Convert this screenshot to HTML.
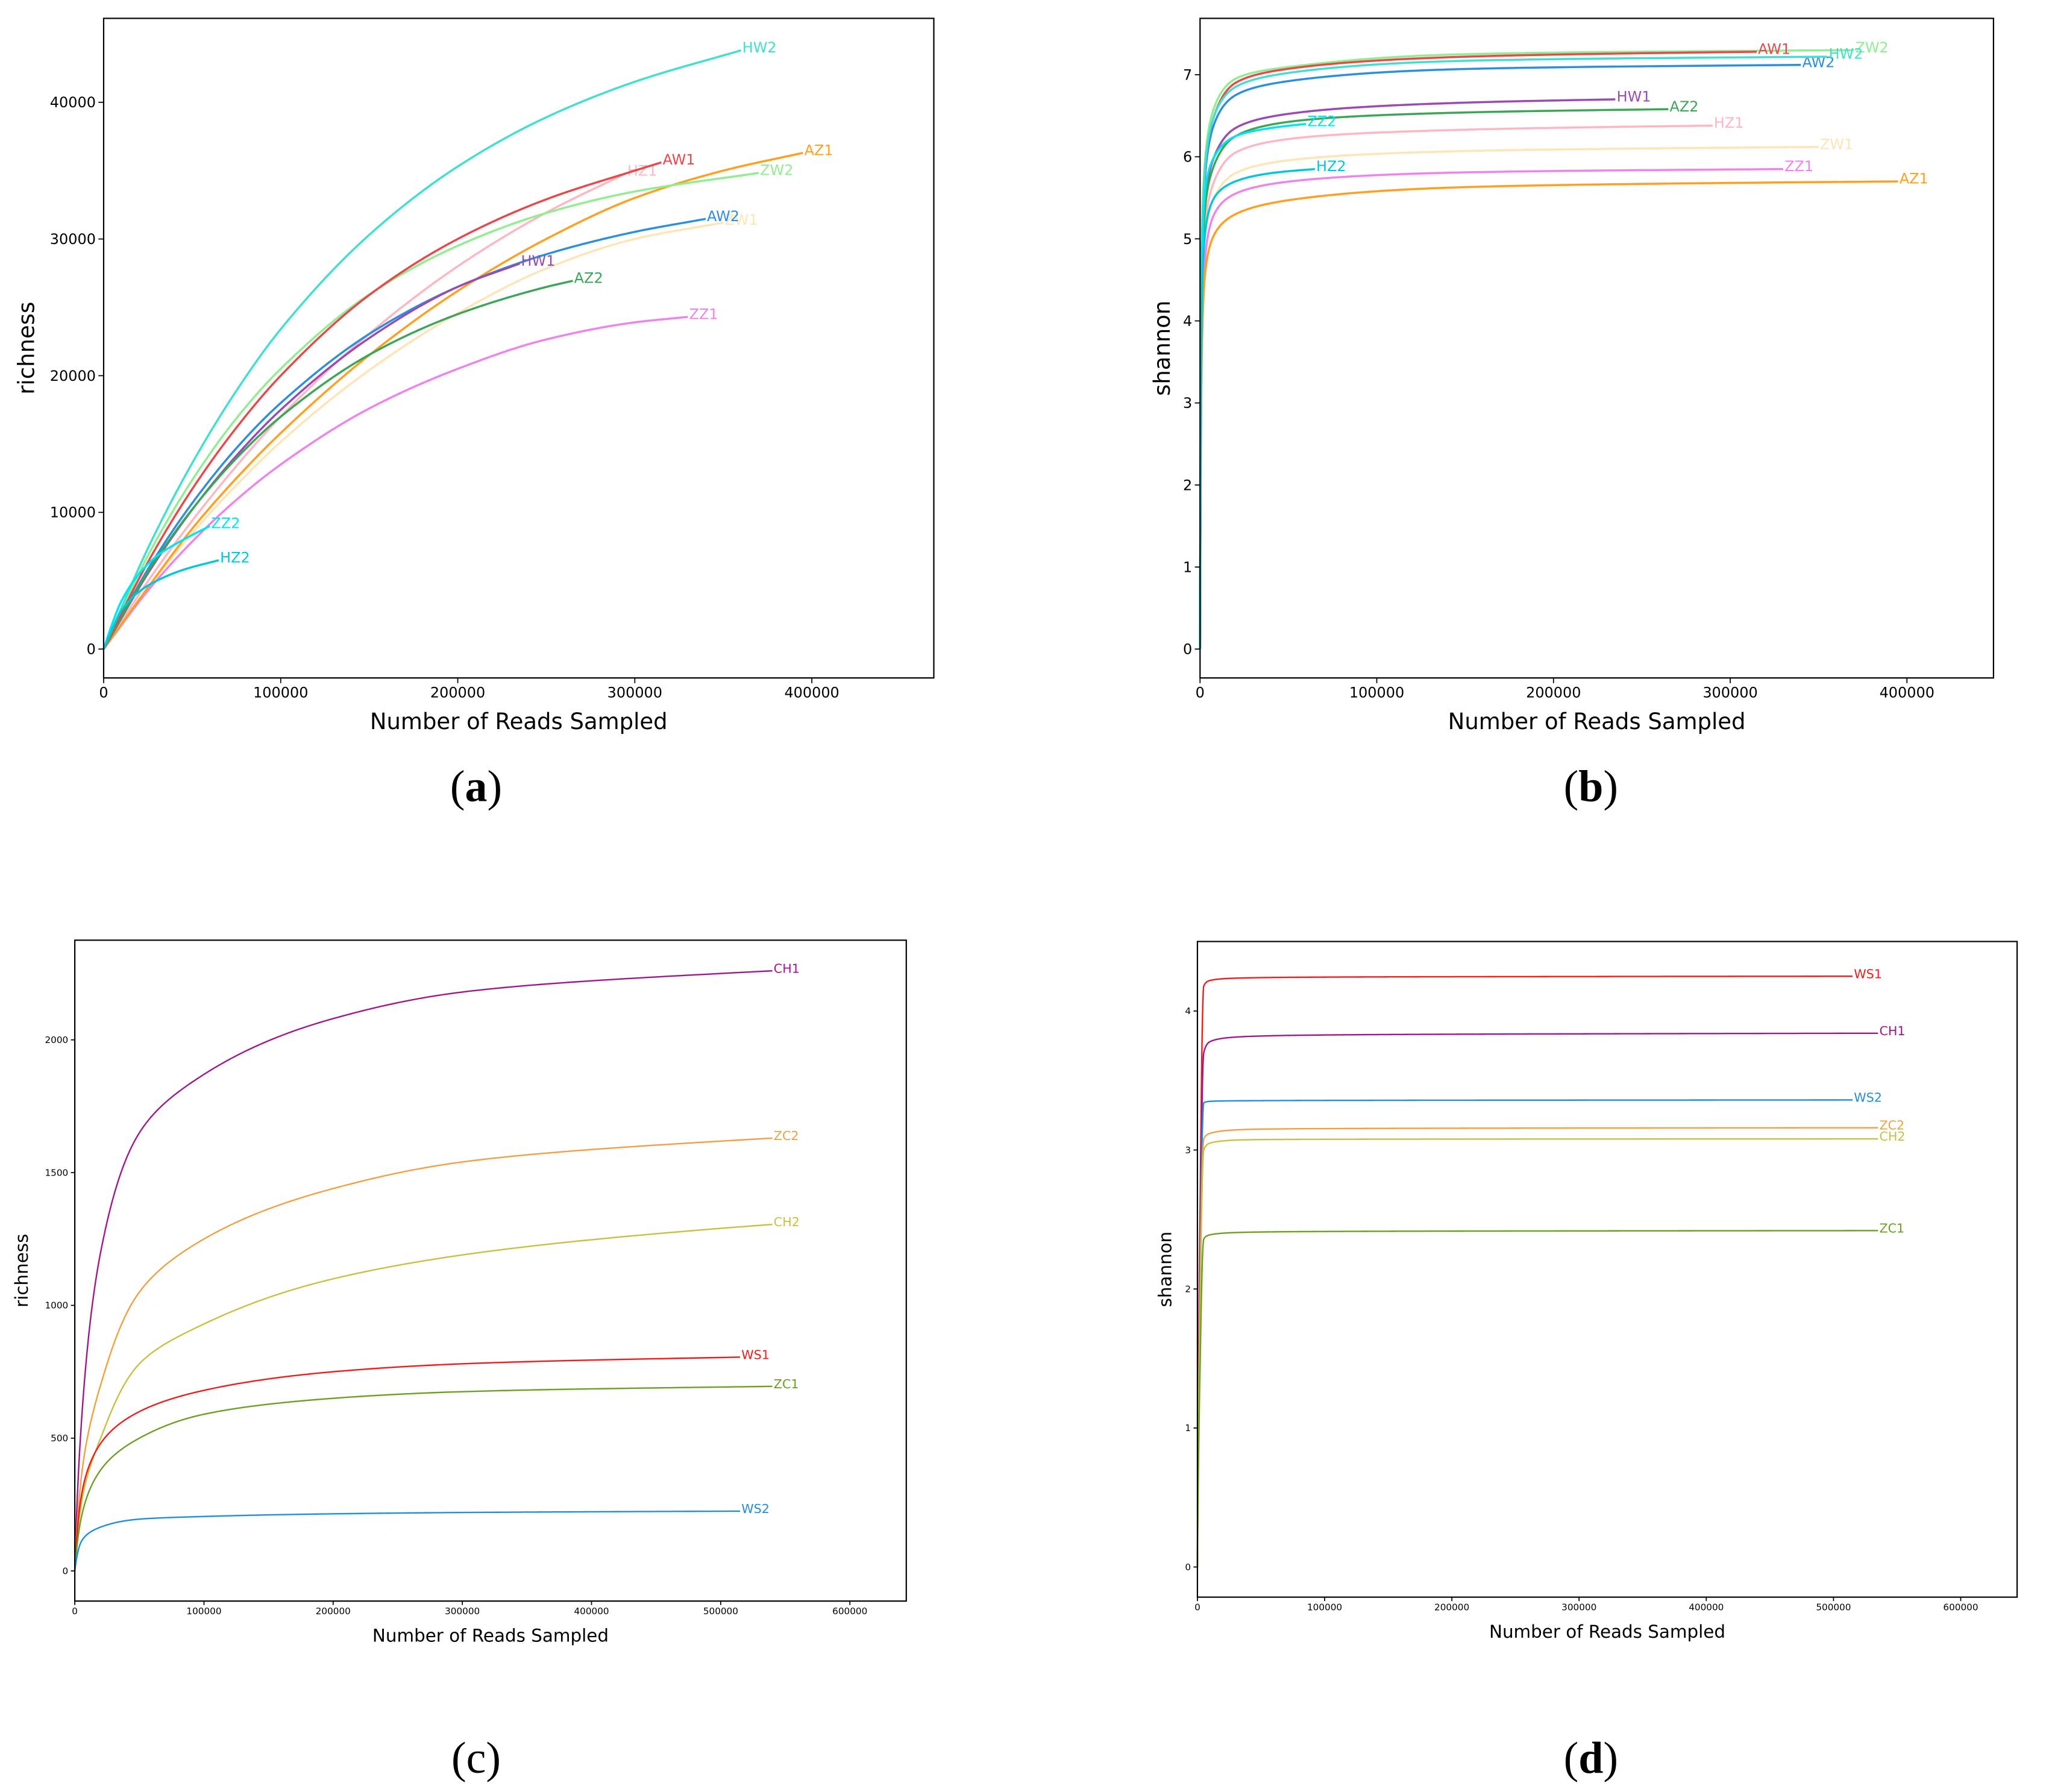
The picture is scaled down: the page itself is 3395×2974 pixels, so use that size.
<!DOCTYPE html>
<html><head><meta charset="utf-8">
<style>
html,body{margin:0;padding:0;background:#fff;}
svg{display:block;}
</style></head>
<body>
<svg id="fig" width="3395" height="2974" viewBox="0 0 1560 1366.6" xmlns="http://www.w3.org/2000/svg" style="font-family:'DejaVu Sans','Liberation Sans',sans-serif;"></svg>
<script>
// ---------- Panel (a) richness ----------
const aNames = ["HZ1","ZW1","ZZ1","AZ1","AW2","HW1","AZ2","ZW2","AW1","HW2","ZZ2","HZ2"];
const aColors = ["#ffb6c1","#ffe4b5","#ee82ee","#ff9f1f","#2b8fe0","#9b4bb0","#3aa657","#90ee90","#e8474b","#40e0d0","#00e5ee","#00c8d8"];
const aX = [
 [0,25000,50000,75000,100000,150000,200000,250000,295000],
 [0,25000,50000,75000,100000,150000,200000,250000,300000,350000],
 [0,25000,50000,75000,100000,150000,200000,250000,300000,330000],
 [0,25000,50000,75000,100000,150000,200000,250000,300000,350000,395000],
 [0,25000,50000,75000,100000,150000,200000,250000,300000,340000],
 [0,25000,50000,75000,100000,150000,200000,235000],
 [0,25000,50000,75000,100000,150000,200000,250000,265000],
 [0,25000,50000,75000,100000,150000,200000,250000,300000,370000],
 [0,25000,50000,75000,100000,150000,200000,250000,300000,315000],
 [0,25000,50000,75000,100000,150000,200000,250000,300000,360000],
 [0,5000,10000,20000,30000,45000,60000],
 [0,5000,10000,20000,30000,45000,65000]
];
const aY = [
 [0,4960,9390,13390,17000,23070,28000,31930,34800],
 [0,4490,8470,12000,15160,20400,24570,27840,30000,31200],
 [0,4270,7860,10920,13500,17600,20500,22650,23900,24300],
 [0,4500,8800,12500,15800,21500,26200,30000,33000,35000,36300],
 [0,5840,10670,14700,18000,23050,26500,28880,30520,31470],
 [0,5530,10200,14150,17500,22750,26500,28200],
 [0,5650,10220,13960,17000,21530,24500,26490,26940],
 [0,6830,12360,16880,20500,25940,29500,31900,33470,34830],
 [0,6360,11700,16200,20000,25900,30000,32900,35000,35600],
 [0,7370,13600,18900,23400,30300,35300,38900,41500,43800],
 [0,1900,3500,5500,6800,8000,9000],
 [0,1500,2800,4200,5000,5800,6500]
];
const aXTicks = [0,100000,200000,300000,400000];
const aYTicks = [0,10000,20000,30000,40000];

// ---------- Panel (b) shannon ----------
const bNames = ["HZ1","ZW1","ZZ1","AZ1","AW2","HW1","AZ2","ZW2","AW1","HW2","ZZ2","HZ2"];
const bColors = aColors;
const bX = [
 [0,1000,3000,8000,20000,60000,150000,290000],
 [0,1000,3000,8000,20000,60000,150000,350000],
 [0,1000,3000,8000,20000,60000,150000,330000],
 [0,1000,3000,8000,20000,60000,150000,395000],
 [0,1000,3000,8000,20000,60000,150000,340000],
 [0,1000,3000,8000,20000,60000,150000,235000],
 [0,1000,3000,8000,20000,60000,150000,265000],
 [0,1000,3000,8000,20000,60000,150000,370000],
 [0,1000,3000,8000,20000,60000,150000,315000],
 [0,1000,3000,8000,20000,60000,150000,355000],
 [0,1000,3000,8000,20000,40000,60000],
 [0,1000,3000,8000,20000,40000,65000]
];
const bY = [
 [0,4.2,5.2,5.7,6.05,6.24,6.33,6.38],
 [0,4.0,5.0,5.5,5.8,5.98,6.07,6.12],
 [0,3.8,4.8,5.3,5.55,5.72,5.81,5.85],
 [0,3.6,4.6,5.05,5.3,5.5,5.63,5.7],
 [0,4.7,5.8,6.4,6.75,6.95,7.07,7.12],
 [0,4.5,5.5,6.0,6.35,6.55,6.66,6.7],
 [0,4.4,5.4,5.9,6.25,6.45,6.54,6.58],
 [0,4.9,6.0,6.6,6.95,7.12,7.25,7.3],
 [0,4.8,5.9,6.5,6.9,7.1,7.22,7.28],
 [0,4.8,5.9,6.5,6.85,7.05,7.17,7.22],
 [0,4.6,5.6,6.0,6.25,6.35,6.4],
 [0,4.2,5.1,5.5,5.7,5.8,5.85]
];
const bXTicks = [0,100000,200000,300000,400000];
const bYTicks = [0,1,2,3,4,5,6,7];

// ---------- Panel (c) richness ----------
const cNames = ["CH1","ZC2","CH2","WS1","ZC1","WS2"];
const cColors = ["#a0168f","#f0a040","#c8c040","#ee1c1c","#6aa020","#1e90d8"];
const cX = [
 [0,5000,20000,50000,100000,200000,300000,540000],
 [0,5000,20000,50000,100000,200000,300000,540000],
 [0,5000,20000,50000,100000,200000,300000,540000],
 [0,5000,20000,50000,100000,200000,300000,515000],
 [0,5000,20000,50000,100000,200000,300000,540000],
 [0,5000,20000,50000,100000,200000,300000,515000]
];
const cY = [
 [0,550,1200,1650,1870,2080,2180,2260],
 [0,350,700,1050,1250,1440,1540,1630],
 [0,250,500,780,930,1100,1190,1305],
 [0,280,480,600,680,750,780,805],
 [0,200,380,500,590,650,675,695],
 [0,110,165,195,205,215,220,225]
];
const cXTicks = [0,100000,200000,300000,400000,500000,600000];
const cYTicks = [0,500,1000,1500,2000];

// ---------- Panel (d) shannon ----------
const dNames = ["WS1","CH1","WS2","ZC2","CH2","ZC1"];
const dColors = ["#ee1c1c","#a0168f","#1e90d8","#f0a040","#c8c040","#6aa020"];
const dX = [
 [0,2000,5000,10000,50000,515000],
 [0,2000,5000,10000,50000,535000],
 [0,2000,5000,10000,50000,515000],
 [0,2000,5000,10000,50000,535000],
 [0,2000,5000,10000,50000,535000],
 [0,2000,5000,10000,50000,535000]
];
const dY = [
 [0,2.5,4.18,4.22,4.24,4.25],
 [0,2.2,3.7,3.78,3.82,3.84],
 [0,2.0,3.34,3.35,3.355,3.36],
 [0,1.9,3.08,3.12,3.15,3.16],
 [0,1.8,3.0,3.05,3.075,3.08],
 [0,1.4,2.36,2.39,2.41,2.42]
];
const dXTicks = [0,100000,200000,300000,400000,500000,600000];
const dYTicks = [0,1,2,3,4];

const NS = "http://www.w3.org/2000/svg";
const fig = document.getElementById('fig');
function mk(tag, attrs, parent){
  const e = document.createElementNS(NS, tag);
  for (const k in attrs) e.setAttribute(k, attrs[k]);
  (parent||fig).appendChild(e);
  return e;
}
// smooth monotone curve, interpolated in a transformed x domain
function smoothPath(xs, ys, c, sx, sy){
  const tf = c ? (x => Math.log(1 + x / c)) : (x => x);
  const ti = c ? (u => c * (Math.exp(u) - 1)) : (u => u);
  const u = xs.map(tf), n = u.length;
  const d = [], m = new Array(n);
  for (let i=0;i<n-1;i++) d.push((ys[i+1]-ys[i])/(u[i+1]-u[i]));
  m[0]=d[0]; m[n-1]=d[n-2];
  for (let i=1;i<n-1;i++){
    if (d[i-1]*d[i] <= 0) m[i]=0;
    else { const w1=2*(u[i+1]-u[i])+(u[i]-u[i-1]), w2=(u[i+1]-u[i])+2*(u[i]-u[i-1]);
      m[i]=(w1+w2)/(w1/d[i-1]+w2/d[i]); }
  }
  let s = "";
  const N = 400;
  let seg = 0;
  for (let k=0;k<=N;k++){
    const uu = u[0] + (u[n-1]-u[0]) * k / N;
    while (seg < n-2 && uu > u[seg+1]) seg++;
    const h = u[seg+1]-u[seg], t = (uu-u[seg])/h;
    const h00=2*t*t*t-3*t*t+1, h10=t*t*t-2*t*t+t, h01=-2*t*t*t+3*t*t, h11=t*t*t-t*t;
    const y = h00*ys[seg]+h10*h*m[seg]+h01*ys[seg+1]+h11*h*m[seg+1];
    s += (k ? " L" : "M") + sx(ti(uu)).toFixed(2) + "," + sy(y).toFixed(2);
  }
  return s;
}

function panel(cfg){
  const g = mk('g', {});
  
  
  const sx = v => cfg.x0 + v * cfg.xs;
  const sy = v => cfg.y0 - v * cfg.ys;
  for (let i=0;i<cfg.names.length;i++){
    const xs = cfg.X[i], ys = cfg.Y[i];
    const p = mk('path', {d: smoothPath(xs, ys, cfg.logc, sx, sy), fill:'none', stroke:cfg.colors[i], 'stroke-width':cfg.lw, 'stroke-linejoin':'round'}, g);
    
    
    const ex = sx(xs[xs.length-1]), ey = sy(ys[ys.length-1]);
    const t = mk('text', {x: ex+1, y: ey+cfg.lfs*0.15, fill:cfg.colors[i], 'font-size':cfg.lfs}, g);
    t.textContent = cfg.names[i];
    
    
  }
  const fr = mk('rect', {x:cfg.L, y:cfg.T, width:cfg.R-cfg.L, height:cfg.B-cfg.T, fill:'none', stroke:'#000', 'stroke-width':1}, g);
  
  
  for (const v of cfg.xt){
    const x = sx(v);
    mk('line', {x1:x, x2:x, y1:cfg.B, y2:cfg.B+cfg.tl, stroke:'#000', 'stroke-width':0.8}, g);
    const t = mk('text', {x:x, y:cfg.B+cfg.tl+cfg.tfs, 'font-size':cfg.tfs, 'text-anchor':'middle'}, g);
    t.textContent = v;
    
    
  }
  for (const v of cfg.yt){
    const y = sy(v);
    mk('line', {x1:cfg.L-cfg.tl, x2:cfg.L, y1:y, y2:y, stroke:'#000', 'stroke-width':0.8}, g);
    const t = mk('text', {x:cfg.L-cfg.tl-2, y:y+cfg.tfs*0.35, 'font-size':cfg.tfs, 'text-anchor':'end'}, g);
    t.textContent = v;
    
    
  }
  const xt = mk('text', {x:(cfg.L+cfg.R)/2, y:cfg.xty, 'font-size':cfg.afs, 'text-anchor':'middle'}, g);
  xt.textContent = 'Number of Reads Sampled';
  
  
  const ym = (cfg.T+cfg.B)/2;
  const yt = mk('text', {x:cfg.ytx, y:ym, 'font-size':cfg.afs, 'text-anchor':'middle', transform:'rotate(-90 '+cfg.ytx+' '+ym+')'}, g);
  yt.textContent = cfg.ylabel;
  
  
  const pl = mk('text', {x:cfg.plx, y:cfg.ply, 'font-size':34, 'text-anchor':'middle', style:"font-family:'Liberation Serif',serif"}, g);
  pl.innerHTML = cfg.bold ? '(<tspan font-weight="bold">'+cfg.letter+'</tspan>)' : '('+cfg.letter+')';
  
  
}

panel({id:'panel-a', names:aNames, colors:aColors, X:aX, Y:aY, xt:aXTicks, yt:aYTicks, logc:0,
  L:79, R:712, T:14, B:517, x0:79, xs:540/400000, y0:495, ys:417/40000,
  lw:1.6, lfs:11, tfs:11, tl:4, afs:17, xty:556, ytx:26, ylabel:'richness', plx:363, ply:611, letter:'a', bold:true});
panel({id:'panel-b', names:bNames, colors:bColors, X:bX, Y:bY, xt:bXTicks, yt:bYTicks, logc:500,
  L:915, R:1520, T:14, B:517, x0:915, xs:539/400000, y0:495, ys:438/7,
  lw:1.6, lfs:11, tfs:11, tl:4, afs:17, xty:556, ytx:892, ylabel:'shannon', plx:1213, ply:611, letter:'b', bold:true});
panel({id:'panel-c', names:cNames, colors:cColors, X:cX, Y:cY, xt:cXTicks, yt:cYTicks, logc:3000,
  L:57, R:691, T:717, B:1221, x0:57, xs:591/600000, y0:1198, ys:405/2000,
  lw:1.1, lfs:9.5, tfs:7, tl:3, afs:13.5, xty:1252, ytx:21, ylabel:'richness', plx:363, ply:1352, letter:'c', bold:false});
panel({id:'panel-d', names:dNames, colors:dColors, X:dX, Y:dY, xt:dXTicks, yt:dYTicks, logc:1500,
  L:913, R:1538, T:718, B:1218, x0:913, xs:582/600000, y0:1195, ys:424/4,
  lw:1.1, lfs:9.5, tfs:7, tl:3, afs:13.5, xty:1249, ytx:893, ylabel:'shannon', plx:1213, ply:1352, letter:'d', bold:true});
</script>
</body></html>
